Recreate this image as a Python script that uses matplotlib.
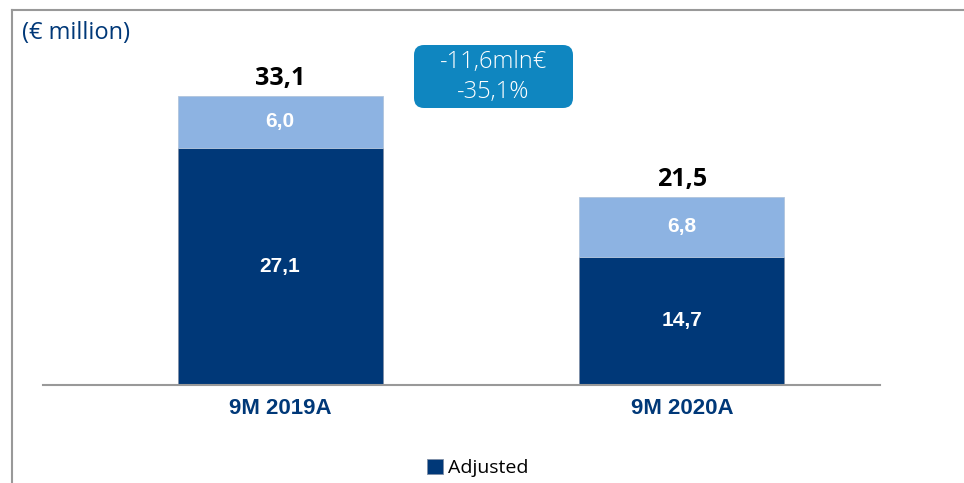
import numpy as np
import matplotlib.pyplot as plt
from matplotlib.lines import Line2D
from matplotlib.patches import FancyBboxPatch
from matplotlib.transforms import IdentityTransform

# Datos del grafico
categorias = ['9M 2019A', '9M 2020A']
ajustado   = [27.1, 14.7]
otros      = [6.0, 6.8]
totales    = [33.1, 21.5]
etiq_ajust = ['27,1', '14,7']
etiq_otros = ['6,0', '6,8']
etiq_tot   = ['33,1', '21,5']
caja_texto = '-11,6mln€\n-35,1%'

navy  = '#003878'
claro = '#8DB3E2'
caja  = '#0F86C0'

fig = plt.figure(figsize=(9.64, 4.83), dpi=100)
W, H = 964.0, 483.0
ax = fig.add_axes([43/W, 98/H, (880-43)/W, 375/H])

x = np.arange(len(categorias))
ax.bar(x, ajustado, width=0.51, color=navy, edgecolor='#7f8fa6', linewidth=0.6, label='Adjusted', zorder=2)
ax.bar(x, otros, width=0.51, bottom=ajustado, color=claro, edgecolor='#b0c4dc', linewidth=0.6, zorder=2)

ax.set_xlim(-0.59, 1.493)
ax.set_ylim(0, 42.9)

for i in range(len(x)):
    ax.text(x[i], ajustado[i]/2, etiq_ajust[i], ha='center', va='center', color='white',
            fontsize=15, fontweight='bold', family='Liberation Sans')
    ax.text(x[i], ajustado[i] + otros[i]/2, etiq_otros[i], ha='center', va='center', color='white',
            fontsize=15, fontweight='bold', family='Liberation Sans')
    ax.text(x[i], totales[i] + 2.0, etiq_tot[i], ha='center', va='center', color='black',
            fontsize=18, fontweight='bold', family='Open Sans')

# Ejes: solo la linea base
for s in ['top', 'right', 'left']:
    ax.spines[s].set_visible(False)
ax.spines['bottom'].set_color('#999999')
ax.spines['bottom'].set_linewidth(1.5)
ax.set_yticks([])
ax.set_xticks(x)
ax.set_xticklabels(categorias, fontsize=16, fontweight='bold', color=navy, family='Liberation Sans')
ax.tick_params(axis='x', length=0, pad=9)

# Caja con la variacion (en pixeles)
box = FancyBboxPatch((414, H-108), 159, 63, boxstyle='round,pad=0,rounding_size=10',
                     transform=IdentityTransform(), facecolor=caja, edgecolor='none')
fig.patches.append(box)
fig.text((414+573)/2/W, (H-77)/H, caja_texto, ha='center', va='center', color='white',
         fontsize=17, family='Open Sans', fontweight='light', linespacing=1.35)

# Titulo de unidades
fig.text(22/W, (H-33)/H, '(€ million)', ha='left', va='center', color=navy, fontsize=17, family='Open Sans')

# Marco
fig.add_artist(Line2D([12/W, 12/W], [0, (H-10)/H], color='#999999', lw=1.5))
fig.add_artist(Line2D([12/W, 1], [(H-10)/H, (H-10)/H], color='#999999', lw=1.5))

# Leyenda
leg = fig.legend(handles=ax.containers[0].patches[:1], labels=['Adjusted'], loc='center',
                 bbox_to_anchor=(478/W, (H-468)/H), frameon=False,
                 handlelength=0.8, handleheight=0.8, handletextpad=0.3,
                 prop={'family': 'Open Sans', 'size': 14})

plt.savefig('out.png', dpi=100)
